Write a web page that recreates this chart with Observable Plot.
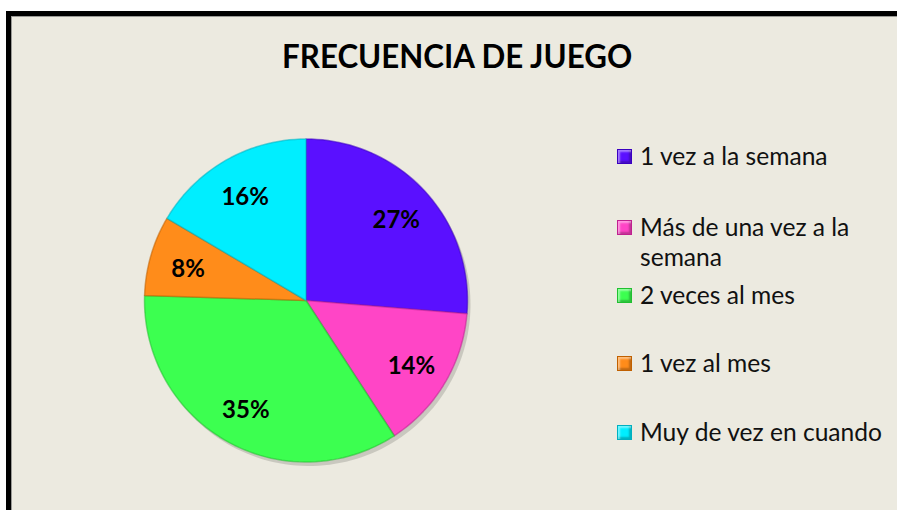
<!DOCTYPE html>
<html>
<head>
<meta charset="utf-8">
<script src="https://cdn.jsdelivr.net/npm/d3@7"></script>
<script src="https://cdn.jsdelivr.net/npm/@observablehq/plot@0.6"></script>
<style>
  html, body { margin: 0; padding: 0; background: #ffffff; }
  #wrap { position: relative; width: 897px; height: 510px; overflow: hidden; font-family: Lato, "Open Sans", sans-serif; }
  #panel { position: absolute; left: 6px; top: 11px; width: 900px; height: 510px;
           border-top: 5px solid #000; border-left: 5px solid #000; background: #ECEAE0; box-sizing: border-box; }
  #panel::before { content: ""; position: absolute; left: 0; top: 0; right: 0; bottom: 0;
           border-top: 1px solid #9a9a96; border-left: 1px solid #9a9a96; }
  #title { position: absolute; left: 0; width: 915px; top: 36px; text-align: center; font-weight: 700; font-size: 32px; color: #000; white-space: nowrap; }
  #title span { display: inline-block; transform-origin: center; }
  #chart { position: absolute; left: 0; top: 0; }
  .item { position: absolute; left: 617px; }
  .sw { position: absolute; left: 0; width: 15px; height: 15px; box-sizing: border-box; }
  .lt { position: absolute; left: 23px; font-size: 24.6px; line-height: 30px; color: #111; width: 260px; }
</style>
</head>
<body>
<div id="wrap">
  <div id="panel"></div>
  <div id="title"><span>FRECUENCIA DE JUEGO</span></div>
  <div id="chart"></div>
  <div id="legend"></div>
</div>
<script>
// ---- data ----
const categories = ["1 vez a la semana", "Más de una vez a la semana", "2 veces al mes", "1 vez al mes", "Muy de vez en cuando"];
// slice sizes (share of the circle, %)
const values = [26.3, 14.5, 34.7, 8.0, 16.5];
// data labels as printed on the slices
const labels = ["27%", "14%", "35%", "8%", "16%"];
const colors = ["#5A10FF", "#FF45C6", "#3CFF50", "#FF8C1A", "#00EEFF"];
const edgeColors = ["#3a00c0", "#c0208f", "#20c030", "#c06000", "#00b0c0"];

// ---- pie geometry (computed from data) ----
const pie = d3.pie().sort(null).value(d => d.value).startAngle(0).endAngle(2 * Math.PI);
const arcs = pie(categories.map((c, i) => ({cat: c, value: values[i], label: labels[i]})));
const poly = [];
const steps = 180;
arcs.forEach(a => {
  poly.push({cat: a.data.cat, x: 0, y: 0});
  const n = Math.max(2, Math.ceil((a.endAngle - a.startAngle) / (2 * Math.PI) * steps));
  for (let k = 0; k <= n; k++) {
    const t = a.startAngle + (a.endAngle - a.startAngle) * k / n;
    poly.push({cat: a.data.cat, x: Math.sin(t), y: Math.cos(t)});
  }
});
const labelR = 0.76;
const textPts = arcs.map(a => {
  const m = (a.startAngle + a.endAngle) / 2;
  return {cat: a.data.cat, label: a.data.label, x: labelR * Math.sin(m), y: labelR * Math.cos(m)};
});

const cx = 305.5, cy = 300, R = 161.5;
const chart = Plot.plot({
  width: 897, height: 510,
  margin: 0,
  style: {background: "transparent", overflow: "visible"},
  x: {domain: [-1, 1], range: [cx - R, cx + R], axis: null},
  y: {domain: [-1, 1], range: [cy + R, cy - R], axis: null},
  color: {domain: categories, range: colors, legend: false},
  marks: [
    Plot.line(poly, {x: "x", y: "y", z: "cat", fill: "#8a8a80", stroke: "none", curve: "linear-closed",
      dx: 3, dy: 4, fillOpacity: 0.35}),
    Plot.line(poly, {x: "x", y: "y", z: "cat", fill: "cat", stroke: d => edgeColors[categories.indexOf(d.cat)],
      strokeWidth: 1.5, strokeOpacity: 0.55, curve: "linear-closed"}),
    Plot.text(textPts, {x: "x", y: "y", text: "label", fontSize: 24, fontWeight: "bold", dy: 3,
      fill: "#000", fontFamily: "Lato, 'Open Sans', sans-serif"})
  ]
});
document.getElementById("chart").appendChild(chart);

// ---- legend ----
const legendTops = [141, 212, 280, 348, 417];
const legend = document.getElementById("legend");
categories.forEach((c, i) => {
  const it = document.createElement("div");
  it.className = "item";
  it.style.top = legendTops[i] + "px";
  const sw = document.createElement("div");
  sw.className = "sw";
  sw.style.top = "8px";
  sw.style.background = colors[i];
  sw.style.border = "1px solid " + edgeColors[i];
  sw.style.boxShadow = "inset 2px 2px 2px rgba(255,255,255,0.45), inset -2px -2px 2px rgba(0,0,0,0.25)";
  const lt = document.createElement("div");
  lt.className = "lt";
  lt.textContent = c;
  lt.style.width = i === 1 ? "240px" : "270px";
  it.appendChild(sw); it.appendChild(lt);
  legend.appendChild(it);
});

// fit title width to reference proportions
const ts = document.querySelector("#title span");
const w = ts.getBoundingClientRect().width;
ts.style.transform = "scaleX(" + (350 / w).toFixed(3) + ")";
</script>
</body>
</html>
